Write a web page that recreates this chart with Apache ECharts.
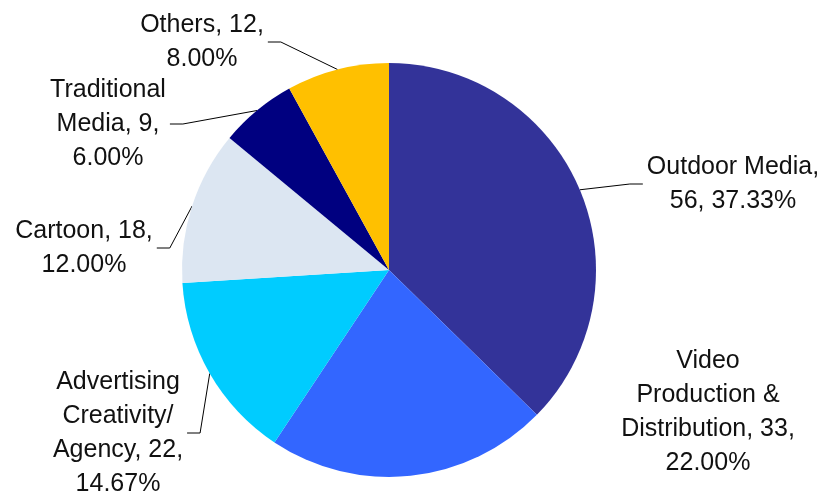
<!DOCTYPE html>
<html>
<head>
<meta charset="utf-8">
<script src="https://cdn.jsdelivr.net/npm/echarts@6/dist/echarts.min.js"></script>
<style>
  html, body { margin: 0; padding: 0; background: #fff; }
  #chart { width: 824px; height: 496px; }
</style>
</head>
<body>
<div id="chart"></div>
<script>
// data
const categories = [
  'Outdoor Media',
  'Video\nProduction &\nDistribution',
  'Advertising\nCreativity/\nAgency',
  'Cartoon',
  'Traditional\nMedia',
  'Others'
];
const values = [56, 33, 22, 18, 9, 12];

// look
const colors = ['#333399', '#3366ff', '#00ccff', '#dce6f2', '#000080', '#ffc000'];
const labelPos = [[733, 184], [708, 412], [118, 433], [84, 248], [108, 124], [202, 42]];
const breakAfterName = [true, false, false, false, false, false];
const hasLeader = [true, false, true, true, true, true];
const CX = 389, CY = 270;

const chart = echarts.init(document.getElementById('chart'), null, { renderer: 'canvas' });

chart.setOption({
  animation: false,
  backgroundColor: '#fff',
  series: [{
    type: 'pie',
    center: [CX, CY],
    radius: 207,
    startAngle: 90,
    clockwise: true,
    avoidLabelOverlap: false,
    silent: true,
    data: categories.map((name, i) => ({
      name,
      value: values[i],
      itemStyle: { color: colors[i] },
      labelLine: { show: hasLeader[i] }
    })),
    itemStyle: { borderWidth: 0 },
    label: {
      show: true,
      position: 'outside',
      color: '#111',
      fontFamily: '"Liberation Sans", Arial, sans-serif',
      fontSize: 25,
      lineHeight: 34,
      formatter: (p) => {
        const pct = p.percent.toFixed(2);
        return breakAfterName[p.dataIndex]
          ? `${p.name},\n${p.value}, ${pct}%`
          : `${p.name}, ${p.value},\n${pct}%`;
      }
    },
    labelLine: {
      show: true,
      length: 10,
      length2: 10,
      lineStyle: { color: '#000', width: 1 }
    },
    labelLayout: (params) => {
      const i = params.dataIndex;
      const [x, y] = labelPos[i];
      const res = { x, y, align: 'center', verticalAlign: 'middle' };
      if (hasLeader[i] && params.labelLinePoints) {
        const start = params.labelLinePoints[0];
        const left = x < CX;
        const w = params.labelRect.width;
        const endX = left ? x + w / 2 + 4 : x - w / 2 - 4;
        const elbowX = left ? endX + 13 : endX - 13;
        res.labelLinePoints = [start, [elbowX, y], [endX, y]];
      }
      return res;
    }
  }]
});
</script>
</body>
</html>
